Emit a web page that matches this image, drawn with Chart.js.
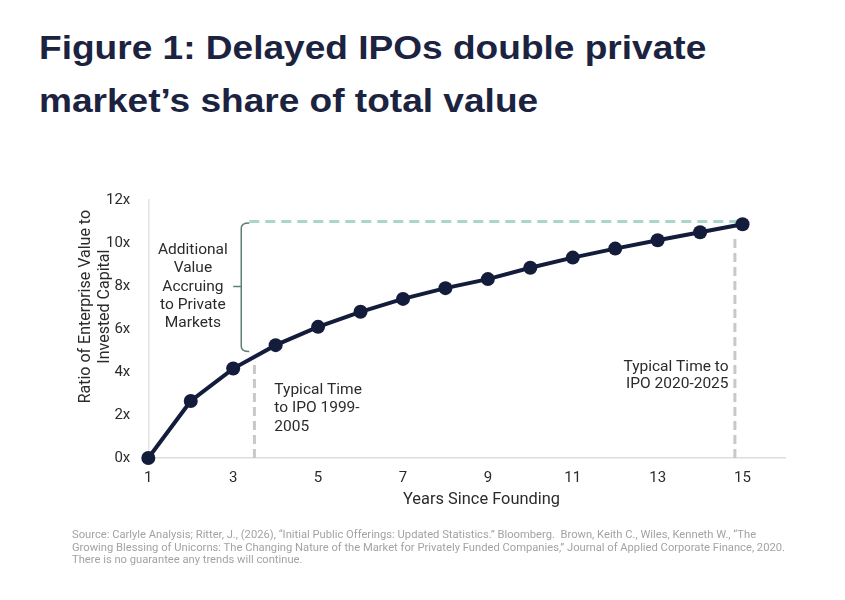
<!DOCTYPE html>
<html>
<head>
<meta charset="utf-8">
<script src="https://cdn.jsdelivr.net/npm/chart.js@4.4.1/dist/chart.umd.min.js"></script>
<style>
  body { margin: 0; background: #fff; width: 845px; height: 600px; overflow: hidden; position: relative; font-family: Roboto, "Liberation Sans", sans-serif; }
  #title { position: absolute; left: 39px; top: 21px; font-family: "Liberation Sans", Arial, sans-serif; font-weight: 700; font-size: 34px; line-height: 53px; color: #1b2340; white-space: nowrap; transform: scaleX(1.09); transform-origin: left top; }
  #wrap { position: absolute; left: 0; top: 0; width: 845px; height: 600px; }
  #note { position: absolute; left: 72px; top: 529px; font-size: 11.2px; line-height: 12.5px; color: #a3a3a3; white-space: nowrap; }
</style>
</head>
<body>
<div id="title">Figure 1: Delayed IPOs double private<br>market’s share of total value</div>
<div id="wrap"><canvas id="myChart"></canvas></div>
<div id="note">Source: Carlyle Analysis; Ritter, J., (2026), “Initial Public Offerings: Updated Statistics.” Bloomberg.&nbsp; Brown, Keith C., Wiles, Kenneth W., “The<br>Growing Blessing of Unicorns: The Changing Nature of the Market for Privately Funded Companies,” Journal of Applied Corporate Finance, 2020.<br>There is no guarantee any trends will continue.</div>
<script>
// dati
const years = [1, 2, 3, 4, 5, 6, 7, 8, 9, 10, 11, 12, 13, 14, 15];
const ratio = [0, 2.65, 4.16, 5.25, 6.1, 6.8, 7.4, 7.9, 8.32, 8.85, 9.32, 9.74, 10.13, 10.5, 10.87];
const xTicks = [1, 3, 5, 7, 9, 11, 13, 15];
const yTicks = [0, 2, 4, 6, 8, 10, 12];
const privateLevel = 11;          // linea tratteggiata verde
const privateFrom = 3.38;
const ipoOld = [3.5, 4.45];       // anno, altezza linea
const ipoNew = [14.82, 10.3];

const navy = "#141c3c";
const txt = "#2b2b2b";

// testi, titoli degli assi e graffa disegnati sopra il grafico
const notesPlugin = {
  id: "notes",
  afterDatasetsDraw(chart) {
    const c = chart.ctx, xs = chart.scales.x, ys = chart.scales.y;
    const area = chart.chartArea;
    c.save();
    c.fillStyle = txt;
    c.textBaseline = "middle";

    // titolo asse y (spostato verso l'alto come nell'originale)
    c.save();
    c.font = "16px Roboto";
    c.textAlign = "center";
    c.translate(area.left - 62, ys.getPixelForValue(7.04));
    c.rotate(-Math.PI / 2);
    c.fillText("Ratio of Enterprise Value to", 0, 0);
    c.fillText("Invested Capital", 0, 18.5);
    c.restore();

    // titolo asse x
    c.font = "16.4px Roboto";
    c.textAlign = "center";
    c.fillText("Years Since Founding", xs.getPixelForValue(8.85), area.bottom + 42);

    c.font = "15.5px Roboto";

    // Additional Value ...
    ["Additional", "Value", "Accruing", "to Private", "Markets"].forEach(function(t, i) {
      c.fillText(t, xs.getPixelForValue(2.05), ys.getPixelForValue(9.66) + i * 18.2);
    });

    // Typical Time 1999-2005
    c.textAlign = "left";
    ["Typical Time", "to IPO 1999-", "2005"].forEach(function(t, i) {
      c.fillText(t, xs.getPixelForValue(3.97), ys.getPixelForValue(3.15) + i * 18.2);
    });

    // Typical Time 2020-2025
    c.textAlign = "right";
    ["Typical Time to", "IPO 2020-2025"].forEach(function(t, i) {
      c.fillText(t, xs.getPixelForValue(14.67), ys.getPixelForValue(4.24) + i * 17.5);
    });

    // graffa
    const bx = xs.getPixelForValue(3.19);
    const top = ys.getPixelForValue(10.93), bot = ys.getPixelForValue(4.95);
    const mid = ys.getPixelForValue(7.98);
    c.strokeStyle = "#5f7f76";
    c.lineWidth = 1.5;
    c.beginPath();
    c.moveTo(bx + 8, top);
    c.quadraticCurveTo(bx, top, bx, top + 5);
    c.lineTo(bx, bot - 5);
    c.quadraticCurveTo(bx, bot, bx + 8, bot);
    c.moveTo(bx, mid);
    c.lineTo(bx - 8, mid);
    c.stroke();
    c.restore();
  }
};

const ctx = document.getElementById("myChart").getContext("2d");
new Chart(ctx, {
  type: "line",
  data: {
    datasets: [
      {
        label: "Ratio",
        data: years.map(function(x, i) { return { x: x, y: ratio[i] }; }),
        borderColor: navy,
        backgroundColor: navy,
        borderWidth: 4,
        pointRadius: 7,
        pointBackgroundColor: navy,
        pointBorderWidth: 0,
        tension: 0,
        clip: false,
        order: 0
      },
      {
        label: "private",
        data: [{ x: privateFrom, y: privateLevel }, { x: 15, y: privateLevel }],
        borderColor: "#a9d5cc",
        borderWidth: 3,
        borderDash: [10, 6],
        pointRadius: 0,
        order: 2
      },
      {
        label: "ipo old",
        data: [{ x: ipoOld[0], y: 0 }, { x: ipoOld[0], y: ipoOld[1] }],
        borderColor: "#c8c8c8",
        borderWidth: 3,
        borderDash: [9, 5],
        pointRadius: 0,
        order: 2
      },
      {
        label: "ipo new",
        data: [{ x: ipoNew[0], y: 0 }, { x: ipoNew[0], y: ipoNew[1] }],
        borderColor: "#c8c8c8",
        borderWidth: 3,
        borderDash: [9, 5],
        pointRadius: 0,
        order: 2
      }
    ]
  },
  options: {
    responsive: true,
    maintainAspectRatio: false,
    animation: false,
    layout: { padding: { left: 96, top: 200, right: 60, bottom: 110 } },
    plugins: {
      legend: { display: false },
      tooltip: { enabled: false }
    },
    scales: {
      x: {
        type: "linear",
        min: 1,
        max: 16,
        afterBuildTicks: function(axis) { axis.ticks = xTicks.map(function(v) { return { value: v }; }); },
        grid: { display: false },
        border: { color: "#dddddd", width: 1.5 },
        ticks: { color: txt, font: { family: "Roboto", size: 15 }, padding: 3 }
      },
      y: {
        min: 0,
        max: 12,
        afterBuildTicks: function(axis) { axis.ticks = yTicks.map(function(v) { return { value: v }; }); },
        grid: { display: false },
        border: { color: "#e4e4e4", width: 1.5 },
        ticks: {
          color: txt,
          font: { family: "Roboto", size: 15 },
          padding: 10,
          callback: function(v) { return v + "x"; }
        }
      }
    }
  },
  plugins: [notesPlugin]
});
</script>
</body>
</html>
